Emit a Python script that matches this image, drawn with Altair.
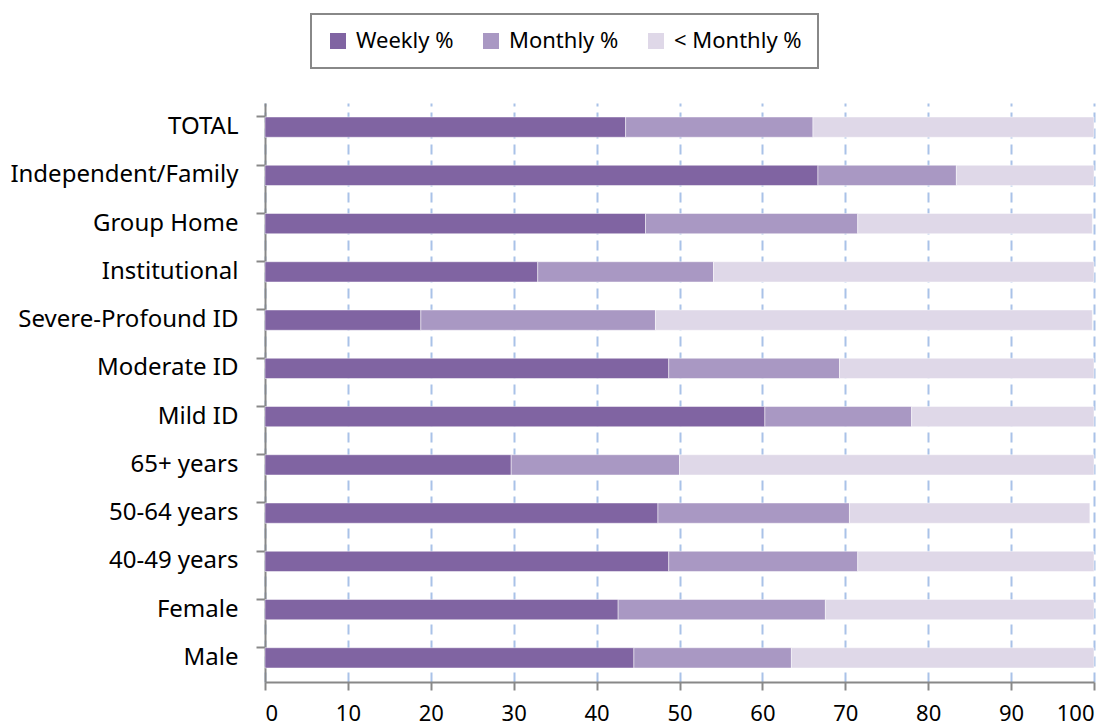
import altair as alt
import pandas as pd

categories = ["TOTAL", "Independent/Family", "Group Home", "Institutional",
              "Severe-Profound ID", "Moderate ID", "Mild ID", "65+ years",
              "50-64 years", "40-49 years", "Female", "Male"]
weekly = [43.5, 66.7, 45.9, 32.9, 18.8, 48.7, 60.3, 29.7, 47.4, 48.7, 42.6, 44.5]
monthly = [22.6, 16.7, 25.6, 21.2, 28.3, 20.6, 17.7, 20.3, 23.1, 22.8, 25.0, 19.0]
less_monthly = [33.9, 16.6, 28.3, 45.9, 52.7, 30.7, 22.0, 50.0, 29.0, 28.5, 32.4, 36.5]

series_names = ["Weekly %", "Monthly %", "< Monthly %"]
series_colors = ["#8064A2", "#A998C3", "#DFD8E8"]
x_ticks = [0, 10, 20, 30, 40, 50, 60, 70, 80, 90, 100]

rows = []
for i, c in enumerate(categories):
    for k, vals in enumerate([weekly, monthly, less_monthly]):
        rows.append({"Group": c, "Series": series_names[k], "Value": vals[i], "ord": k})
df = pd.DataFrame(rows)

FONT = "Noto Sans"

chart = alt.Chart(df).mark_bar(stroke="#ffffff", strokeWidth=0.8, strokeOpacity=0.6).encode(
    y=alt.Y("Group:N", sort=categories, title=None,
            scale=alt.Scale(paddingInner=0.58, paddingOuter=0.29),
            axis=alt.Axis(labelFontSize=24, labelFont=FONT, labelColor="#000000",
                          labelPadding=18, tickSize=9, tickWidth=2, tickColor="#888888",
                          domainColor="#888888", domainWidth=2, bandPosition=0,
                          grid=False, labelLimit=400)),
    x=alt.X("Value:Q", stack="zero", title=None,
            scale=alt.Scale(domain=[0, 100], nice=False, zero=True),
            axis=alt.Axis(values=x_ticks, labelFontSize=22, labelFont=FONT, labelColor="#000000",
                          labelPadding=13, tickSize=8, tickWidth=2, tickColor="#888888",
                          domainColor="#888888", domainWidth=2, grid=True,
                          gridColor="#A9C2E8", gridWidth=2, gridDash=[10, 6])),
    color=alt.Color("Series:N", scale=alt.Scale(domain=series_names, range=series_colors),
                    legend=alt.Legend(title=None, orient="none", legendX=46, legendY=-89,
                                      direction="horizontal", symbolType="square",
                                      symbolSize=256, symbolStrokeWidth=0,
                                      labelFontSize=22, labelFont=FONT, labelColor="#000000",
                                      labelOffset=7, columnPadding=26, padding=16,
                                      strokeColor="#888888", fillColor="#ffffff")),
    order=alt.Order("ord:Q"),
).properties(
    width=829, height=579,
    autosize=alt.AutoSizeParams(type="none"),
    padding={"left": 257, "top": 95, "right": 15, "bottom": 45},
).configure_view(stroke=None).configure_legend(strokeWidth=2)

chart.save("out.html", embed_options={"renderer": "svg", "actions": False})
